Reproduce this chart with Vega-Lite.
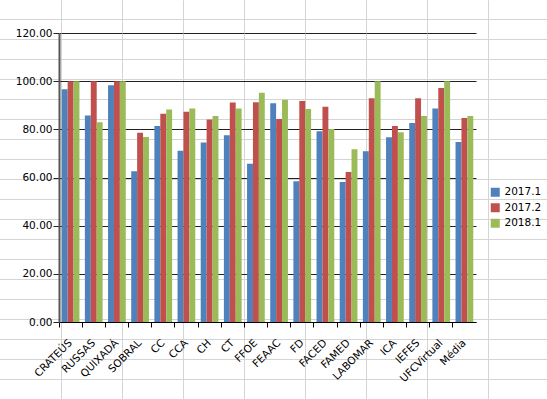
{
  "$schema": "https://vega.github.io/schema/vega-lite/v6.json",
  "width": 417,
  "height": 289,
  "autosize": {"type": "none"},
  "padding": {"left": 59, "top": 33, "right": 71, "bottom": 77},
  "background": "white",
  "config": {"view": {"stroke": null}, "font": "DejaVu Sans"},
  "resolve": {"scale": {"x": "independent", "y": "independent"}, "axis": {"x": "independent", "y": "independent"}},
  "layer": [
    {
      "data": {"values": []},
      "mark": {"type": "point", "opacity": 0},
      "encoding": {
        "x": {"field": "gx", "type": "quantitative", "scale": {"domain": [0, 547], "range": [-59, 488], "nice": false, "zero": false},
          "axis": {"orient": "top", "title": null, "values": [61, 122, 183, 244, 305, 366, 427, 488], "labels": false, "ticks": true, "tickSize": 33, "tickColor": "#d4d4d4", "domain": false, "grid": true, "gridColor": "#d4d4d4", "gridOpacity": 1}},
        "y": {"field": "gy", "type": "quantitative", "scale": {"domain": [0, 399], "range": [-33, 366], "nice": false, "zero": false},
          "axis": {"orient": "right", "title": null, "values": [19, 39, 59, 79, 99, 119, 139, 159, 179, 199, 219, 239, 259, 279, 299, 319, 339, 359, 379], "labels": false, "ticks": true, "tickSize": 71, "tickColor": "#d4d4d4", "domain": false, "grid": true, "gridColor": "#d4d4d4", "gridOpacity": 1}}
      }
    },
    {
      "data": {"values": [
        {"u": "CRATEÚS", "p": "2017.1", "v": 96.6}, {"u": "CRATEÚS", "p": "2017.2", "v": 100}, {"u": "CRATEÚS", "p": "2018.1", "v": 100},
        {"u": "RUSSAS", "p": "2017.1", "v": 85.7}, {"u": "RUSSAS", "p": "2017.2", "v": 100}, {"u": "RUSSAS", "p": "2018.1", "v": 82.9},
        {"u": "QUIXADÁ", "p": "2017.1", "v": 98.3}, {"u": "QUIXADÁ", "p": "2017.2", "v": 100}, {"u": "QUIXADÁ", "p": "2018.1", "v": 100},
        {"u": "SOBRAL", "p": "2017.1", "v": 62.6}, {"u": "SOBRAL", "p": "2017.2", "v": 78.6}, {"u": "SOBRAL", "p": "2018.1", "v": 76.8},
        {"u": "CC", "p": "2017.1", "v": 81.4}, {"u": "CC", "p": "2017.2", "v": 86.5}, {"u": "CC", "p": "2018.1", "v": 88.2},
        {"u": "CCA", "p": "2017.1", "v": 71.1}, {"u": "CCA", "p": "2017.2", "v": 87.3}, {"u": "CCA", "p": "2018.1", "v": 88.7},
        {"u": "CH", "p": "2017.1", "v": 74.5}, {"u": "CH", "p": "2017.2", "v": 84.1}, {"u": "CH", "p": "2018.1", "v": 85.5},
        {"u": "CT", "p": "2017.1", "v": 77.5}, {"u": "CT", "p": "2017.2", "v": 91.1}, {"u": "CT", "p": "2018.1", "v": 88.7},
        {"u": "FFOE", "p": "2017.1", "v": 65.7}, {"u": "FFOE", "p": "2017.2", "v": 91.2}, {"u": "FFOE", "p": "2018.1", "v": 95.2},
        {"u": "FEAAC", "p": "2017.1", "v": 90.8}, {"u": "FEAAC", "p": "2017.2", "v": 84.3}, {"u": "FEAAC", "p": "2018.1", "v": 92.3},
        {"u": "FD", "p": "2017.1", "v": 58.4}, {"u": "FD", "p": "2017.2", "v": 91.8}, {"u": "FD", "p": "2018.1", "v": 88.4},
        {"u": "FACED", "p": "2017.1", "v": 79.2}, {"u": "FACED", "p": "2017.2", "v": 89.4}, {"u": "FACED", "p": "2018.1", "v": 80.1},
        {"u": "FAMED", "p": "2017.1", "v": 58.1}, {"u": "FAMED", "p": "2017.2", "v": 62.3}, {"u": "FAMED", "p": "2018.1", "v": 71.7},
        {"u": "LABOMAR", "p": "2017.1", "v": 70.9}, {"u": "LABOMAR", "p": "2017.2", "v": 92.9}, {"u": "LABOMAR", "p": "2018.1", "v": 100},
        {"u": "ICA", "p": "2017.1", "v": 76.7}, {"u": "ICA", "p": "2017.2", "v": 81.4}, {"u": "ICA", "p": "2018.1", "v": 78.8},
        {"u": "IEFES", "p": "2017.1", "v": 82.6}, {"u": "IEFES", "p": "2017.2", "v": 92.9}, {"u": "IEFES", "p": "2018.1", "v": 85.5},
        {"u": "UFCVirtual", "p": "2017.1", "v": 88.6}, {"u": "UFCVirtual", "p": "2017.2", "v": 97.2}, {"u": "UFCVirtual", "p": "2018.1", "v": 100},
        {"u": "Média", "p": "2017.1", "v": 74.7}, {"u": "Média", "p": "2017.2", "v": 84.7}, {"u": "Média", "p": "2018.1", "v": 85.5}
      ]},
      "mark": {"type": "bar"},
      "encoding": {
        "x": {
          "field": "u", "type": "nominal", "sort": null,
          "scale": {"paddingInner": 0, "paddingOuter": 0},
          "axis": {"orient": "bottom", "title": null, "labelAngle": -45, "labelBaseline": "middle", "bandPosition": 0, "labelOffset": 0, "tickSize": 5, "tickColor": "#000", "domainColor": "#000", "labelColor": "#000", "labelFontSize": 10.5, "labelPadding": 14}
        },
        "xOffset": {"field": "p", "type": "nominal", "scale": {"paddingInner": 0, "paddingOuter": 0.46}},
        "y": {
          "field": "v", "type": "quantitative",
          "scale": {"domain": [0, 120]},
          "axis": {"orient": "left", "title": null, "values": [0, 20, 40, 60, 80, 100, 120], "format": ".2f", "grid": true, "gridColor": "#222", "gridOpacity": 1, "tickColor": "#222", "domainColor": "#555", "domainWidth": 2, "tickSize": 6, "labelPadding": 1, "labelFontSize": 10.5, "labelColor": "#000"}
        },
        "color": {
          "field": "p", "type": "nominal",
          "scale": {"domain": ["2017.1", "2017.2", "2018.1"], "range": ["#4F81BD", "#C0504D", "#9BBB59"]},
          "legend": {"title": null, "orient": "none", "legendX": 431, "legendY": 154, "symbolType": "square", "symbolSize": 81, "symbolStrokeWidth": 0, "labelFontSize": 10.5, "labelColor": "#000", "rowPadding": 4.5, "padding": 0}
        }
      }
    }
  ]
}
